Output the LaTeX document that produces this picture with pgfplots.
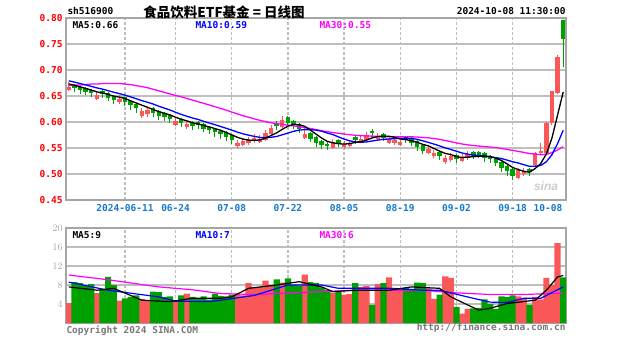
\documentclass[border=0pt]{standalone}
\usepackage{pgfplots}
\pgfplotsset{compat=1.18}
\usepackage{pgfplotstable}
\usepackage{fontspec}
\setmainfont{Liberation Sans}
\newfontfamily\lab{DejaVu Sans Mono}
\newfontfamily\cjk{Noto Sans CJK SC}
\definecolor{cred}{RGB}{250,88,88}
\definecolor{cgreen}{RGB}{0,160,0}
\definecolor{framec}{RGB}{165,165,165}
\definecolor{gridc}{RGB}{190,190,190}
\definecolor{dblue}{RGB}{20,120,205}
\definecolor{mag}{RGB}{255,0,255}
\definecolor{txtgray}{RGB}{120,120,120}

\pgfplotstableread{
i o h l c v
0 0.661 0.676 0.659 0.668 4.2
5 0.645 0.658 0.643 0.651 6.3
9 0.638 0.651 0.635 0.645 4.7
13 0.611 0.627 0.607 0.621 5.1
14 0.616 0.630 0.609 0.624 4.8
19 0.595 0.607 0.592 0.601 4.6
21 0.590 0.602 0.587 0.596 6.2
30 0.554 0.566 0.550 0.560 6.2
31 0.556 0.569 0.553 0.563 5.8
32 0.559 0.572 0.556 0.566 8.4
33 0.563 0.576 0.559 0.570 7.5
34 0.562 0.575 0.559 0.568 7.6
35 0.566 0.584 0.563 0.578 8.9
36 0.577 0.595 0.575 0.588 7.9
38 0.590 0.611 0.588 0.604 8.5
42 0.569 0.589 0.567 0.576 10.2
47 0.550 0.568 0.548 0.562 6.4
49 0.552 0.563 0.549 0.557 6.0
50 0.553 0.566 0.551 0.560 6.1
52 0.562 0.574 0.559 0.568 7.6
53 0.565 0.581 0.563 0.575 7.8
55 0.567 0.579 0.564 0.573 8.2
57 0.560 0.574 0.557 0.567 9.6
58 0.559 0.571 0.555 0.565 7.4
59 0.556 0.568 0.553 0.562 7.1
64 0.541 0.554 0.538 0.548 7.3
65 0.534 0.546 0.530 0.540 5.1
67 0.524 0.537 0.519 0.530 9.8
68 0.527 0.540 0.524 0.534 9.5
70 0.525 0.538 0.523 0.532 2.0
71 0.530 0.544 0.527 0.538 3.0
80 0.493 0.511 0.490 0.507 5.6
81 0.500 0.512 0.497 0.506 5.3
83 0.517 0.542 0.515 0.540 5.5
84 0.540 0.560 0.537 0.545 5.0
85 0.540 0.600 0.537 0.599 9.5
86 0.598 0.659 0.594 0.659 8.0
87 0.656 0.729 0.654 0.725 16.8
}\upd

\pgfplotstableread{
i o h l c v
1 0.672 0.674 0.658 0.665 8.6
2 0.668 0.670 0.654 0.661 8.4
3 0.665 0.667 0.651 0.658 7.8
4 0.662 0.664 0.648 0.655 8.2
6 0.659 0.661 0.647 0.654 6.9
7 0.656 0.658 0.640 0.647 9.7
8 0.650 0.652 0.634 0.642 8.0
10 0.648 0.649 0.631 0.638 5.2
11 0.641 0.643 0.624 0.632 5.5
12 0.635 0.637 0.618 0.626 5.8
15 0.626 0.628 0.610 0.617 6.6
16 0.621 0.623 0.604 0.612 6.5
17 0.617 0.620 0.602 0.610 5.5
18 0.614 0.616 0.598 0.606 5.6
20 0.605 0.607 0.590 0.598 5.8
22 0.599 0.601 0.584 0.592 5.5
23 0.600 0.602 0.586 0.594 5.2
24 0.597 0.599 0.580 0.587 5.6
25 0.590 0.592 0.577 0.584 4.9
26 0.587 0.589 0.572 0.580 6.2
27 0.583 0.585 0.568 0.576 5.7
28 0.580 0.582 0.564 0.572 5.6
29 0.575 0.577 0.558 0.565 6.0
37 0.599 0.602 0.584 0.592 9.2
39 0.609 0.612 0.591 0.598 9.4
40 0.601 0.603 0.586 0.594 8.0
41 0.597 0.599 0.579 0.586 7.8
43 0.578 0.580 0.561 0.568 8.6
44 0.571 0.573 0.552 0.560 8.4
45 0.563 0.565 0.548 0.556 7.5
46 0.558 0.561 0.546 0.554 7.0
48 0.565 0.567 0.552 0.559 6.5
51 0.572 0.574 0.558 0.566 8.4
54 0.583 0.586 0.570 0.578 3.8
56 0.577 0.579 0.563 0.570 8.4
60 0.571 0.574 0.559 0.566 7.4
61 0.569 0.571 0.553 0.560 7.2
62 0.563 0.565 0.545 0.552 8.5
63 0.556 0.558 0.538 0.545 8.4
66 0.542 0.544 0.527 0.535 6.0
69 0.537 0.539 0.522 0.528 3.4
72 0.542 0.544 0.528 0.535 3.1
73 0.543 0.545 0.530 0.537 3.2
74 0.540 0.542 0.524 0.531 5.0
75 0.534 0.536 0.521 0.528 4.0
76 0.531 0.533 0.515 0.522 3.0
77 0.524 0.526 0.504 0.512 5.6
78 0.515 0.517 0.497 0.505 5.5
79 0.509 0.511 0.489 0.496 5.8
82 0.510 0.512 0.496 0.503 3.8
88 0.797 0.797 0.705 0.760 9.6
}\downd

\pgfplotstableread{
i ma5 ma10 ma30
0 0.6732 0.6792 0.670
1 0.6706 0.6767 0.671
2 0.6676 0.6740 0.671
3 0.6646 0.6713 0.672
4 0.6614 0.6685 0.673
5 0.6580 0.6656 0.673
6 0.6558 0.6632 0.674
7 0.6530 0.6603 0.674
8 0.6498 0.6572 0.674
9 0.6478 0.6546 0.674
10 0.6452 0.6516 0.673
11 0.6408 0.6483 0.672
12 0.6366 0.6448 0.670
13 0.6324 0.6411 0.668
14 0.6282 0.6380 0.666
15 0.6240 0.6346 0.663
16 0.6200 0.6304 0.660
17 0.6168 0.6267 0.657
18 0.6138 0.6231 0.654
19 0.6092 0.6187 0.651
20 0.6054 0.6147 0.6485
21 0.6022 0.6111 0.6454
22 0.5986 0.6077 0.6422
23 0.5962 0.6050 0.6391
24 0.5934 0.6013 0.6359
25 0.5906 0.5980 0.6327
26 0.5874 0.5948 0.6295
27 0.5842 0.5914 0.6261
28 0.5798 0.5880 0.6228
29 0.5754 0.5844 0.6192
30 0.5706 0.5806 0.6156
31 0.5672 0.5773 0.6122
32 0.5652 0.5747 0.6091
33 0.5648 0.5723 0.6061
34 0.5654 0.5704 0.6032
35 0.5690 0.5698 0.6008
36 0.5740 0.5706 0.5986
37 0.5792 0.5722 0.5968
38 0.5860 0.5754 0.5955
39 0.5920 0.5787 0.5939
40 0.5952 0.5821 0.5925
41 0.5948 0.5844 0.5909
42 0.5916 0.5854 0.5893
43 0.5844 0.5852 0.5875
44 0.5768 0.5844 0.5854
45 0.5692 0.5822 0.5833
46 0.5628 0.5788 0.5814
47 0.5600 0.5758 0.5798
48 0.5582 0.5713 0.5782
49 0.5576 0.5672 0.5768
50 0.5584 0.5638 0.5755
51 0.5608 0.5618 0.5745
52 0.5620 0.5610 0.5737
53 0.5652 0.5617 0.5731
54 0.5694 0.5635 0.5728
55 0.5720 0.5652 0.5724
56 0.5728 0.5668 0.5721
57 0.5726 0.5673 0.5718
58 0.5706 0.5679 0.5715
59 0.5674 0.5684 0.5714
60 0.5660 0.5690 0.5716
61 0.5640 0.5684 0.5715
62 0.5610 0.5668 0.5711
63 0.5570 0.5638 0.5702
64 0.5542 0.5608 0.5696
65 0.5490 0.5575 0.5683
66 0.5440 0.5540 0.5665
67 0.5396 0.5503 0.5645
68 0.5374 0.5472 0.5621
69 0.5334 0.5438 0.5598
70 0.5318 0.5404 0.5577
71 0.5324 0.5382 0.5561
72 0.5334 0.5365 0.5548
73 0.5340 0.5357 0.5537
74 0.5346 0.5340 0.5528
75 0.5338 0.5328 0.5518
76 0.5306 0.5315 0.5508
77 0.5260 0.5297 0.5491
78 0.5196 0.5268 0.5473
79 0.5126 0.5236 0.5453
80 0.5084 0.5211 0.5435
81 0.5052 0.5179 0.5415
82 0.5034 0.5147 0.5393
83 0.5104 0.5150 0.5382
84 0.5202 0.5164 0.5371
85 0.5386 0.5235 0.5379
86 0.5692 0.5372 0.5409
87 0.6136 0.5585 0.5462
88 0.6576 0.5840 0.5527
}\mad

\pgfplotstableread{
i v
0 7.6
5 6.9
8 7.3
13 4.8
18 4.5
22 5.2
27 5.2
29 5.5
32 7.3
37 8.0
41 8.7
45 7.6
47 6.6
51 6.9
57 6.9
61 7.6
66 7.3
68 5.5
71 3.8
73 2.7
75 3.1
78 4.1
83 4.8
85 6.9
87 9.7
88 10.0
}\vmaf

\pgfplotstableread{
i v
0 8.6
7 6.9
16 5.5
19 4.6
25 4.5
27 4.8
33 5.8
39 8.0
45 8.0
48 7.3
57 7.3
63 6.9
66 6.9
72 5.2
75 4.4
78 4.3
81 5.2
84 5.2
88 7.6
}\vmat

\pgfplotstableread{
i v
0 10.1
7 9.1
16 7.6
22 7.0
27 6.2
33 6.0
39 6.3
45 6.6
51 6.9
57 6.9
63 6.9
68 6.4
75 6.0
81 6.0
88 6.3
}\vmath

\pgfplotsset{
  sinabase/.style={
    scale only axis, anchor=south west, width=500bp,
    xmin=-0.5, xmax=88.5,
    axis line style={draw=framec, line width=1.8bp},
    major tick length=0pt,
    xtick={10,19,29,39,49,59,69,79},
    xmajorgrids, ymajorgrids,
    x grid style={gridc, dash pattern=on 3bp off 2bp, line width=1.3bp},
    y grid style={gridc, line width=1.2bp},
    ticklabel style={font=\lab\bfseries\fontsize{9.5bp}{10bp}\selectfont},
    clip=true,
  },
  candle/.style={mark=none, draw=none, forget plot,
    error bars/.cd, y dir=plus, y explicit, error mark=none,
    error bar style={draw=#1, line width=4.4bp}},
  wick/.style={mark=none, draw=none, forget plot,
    error bars/.cd, y dir=plus, y explicit, error mark=none,
    error bar style={draw=#1, line width=1bp}},
}

\begin{document}
\begin{tikzpicture}[x=1bp,y=1bp]
\path[use as bounding box] (0,0) rectangle (627,342);

% upper price panel
\begin{axis}[sinabase,
  at={(66bp,142bp)}, height=182bp,
  ymin=0.45, ymax=0.80,
  ytick={0.45,0.50,0.55,0.60,0.65,0.70,0.75,0.80},
  yticklabels={0.45,0.50,0.55,0.60,0.65,0.70,0.75,0.80},
  yticklabel style={text=red},
  xticklabels={2024-06-11,06-24,07-08,07-22,08-05,08-19,09-02,09-18},
  extra x ticks={85.3}, extra x tick labels={10-08},
  extra x tick style={grid=none},
  xticklabel style={text=dblue, yshift=-1bp},
]
\addplot[wick=cred] table[x=i, y=l, y error expr=\thisrow{h}-\thisrow{l}] {\upd};
\addplot[candle=cred] table[x=i, y=o, y error expr=\thisrow{c}-\thisrow{o}] {\upd};
\addplot[wick=cgreen] table[x=i, y=l, y error expr=\thisrow{h}-\thisrow{l}] {\downd};
\addplot[candle=cgreen] table[x=i, y=c, y error expr=\thisrow{o}-\thisrow{c}] {\downd};
\addplot[mag, line width=1.3bp] table[x=i, y=ma30] {\mad};
\addplot[blue, line width=1.3bp] table[x=i, y=ma10] {\mad};
\addplot[black, line width=1.3bp] table[x=i, y=ma5] {\mad};
\end{axis}

% lower volume panel
\begin{axis}[sinabase,
  at={(66bp,19bp)}, height=95bp,
  ymin=0, ymax=20,
  ytick={4,8,12,16,20},
  yticklabel style={text=framec},
  xticklabels={},
]
\addplot[ybar, bar width=6.2bp, bar shift=0pt, fill=cred, draw=none] table[x=i, y=v] {\upd};
\addplot[ybar, bar width=6.2bp, bar shift=0pt, fill=cgreen, draw=none] table[x=i, y=v] {\downd};
\addplot[mag, line width=1.2bp] table[x=i, y=v] {\vmath};
\addplot[blue, line width=1.2bp] table[x=i, y=v] {\vmat};
\addplot[black, line width=1.2bp] table[x=i, y=v] {\vmaf};
\end{axis}

% texts
\node[anchor=west, font=\lab\bfseries\fontsize{9.5bp}{10bp}\selectfont] at (64,331) {sh516900};
\node[font=\cjk\bfseries\fontsize{13.5bp}{14bp}\selectfont] at (224,330) {食品饮料ETF基金 = 日线图};
\node[anchor=east, font=\lab\bfseries\fontsize{9.5bp}{10bp}\selectfont] at (569,331) {2024-10-08 11:30:00};

\node[anchor=west, font=\lab\bfseries\fontsize{9.5bp}{10bp}\selectfont, text=black] at (69,317) {MA5:0.66};
\node[anchor=west, font=\lab\bfseries\fontsize{9.5bp}{10bp}\selectfont, text=blue] at (192,317) {MA10:0.59};
\node[anchor=west, font=\lab\bfseries\fontsize{9.5bp}{10bp}\selectfont, text=mag] at (316,317) {MA30:0.55};

\node[anchor=west, font=\lab\bfseries\fontsize{9.5bp}{10bp}\selectfont, text=black] at (69,107) {MA5:9};
\node[anchor=west, font=\lab\bfseries\fontsize{9.5bp}{10bp}\selectfont, text=blue] at (192,107) {MA10:7};
\node[anchor=west, font=\lab\bfseries\fontsize{9.5bp}{10bp}\selectfont, text=mag] at (316,107) {MA30:6};

\node[text=gray!40, font=\bfseries\itshape\fontsize{12bp}{12bp}\selectfont] at (546,156) {sina};

\node[anchor=west, text=txtgray, font=\lab\bfseries\fontsize{9.5bp}{10bp}\selectfont] at (63,11) {Copyright 2024 SINA.COM};
\node[anchor=east, text=txtgray, font=\lab\bfseries\fontsize{9.5bp}{10bp}\selectfont] at (569,14) {http://finance.sina.com.cn};
\end{tikzpicture}
\end{document}
